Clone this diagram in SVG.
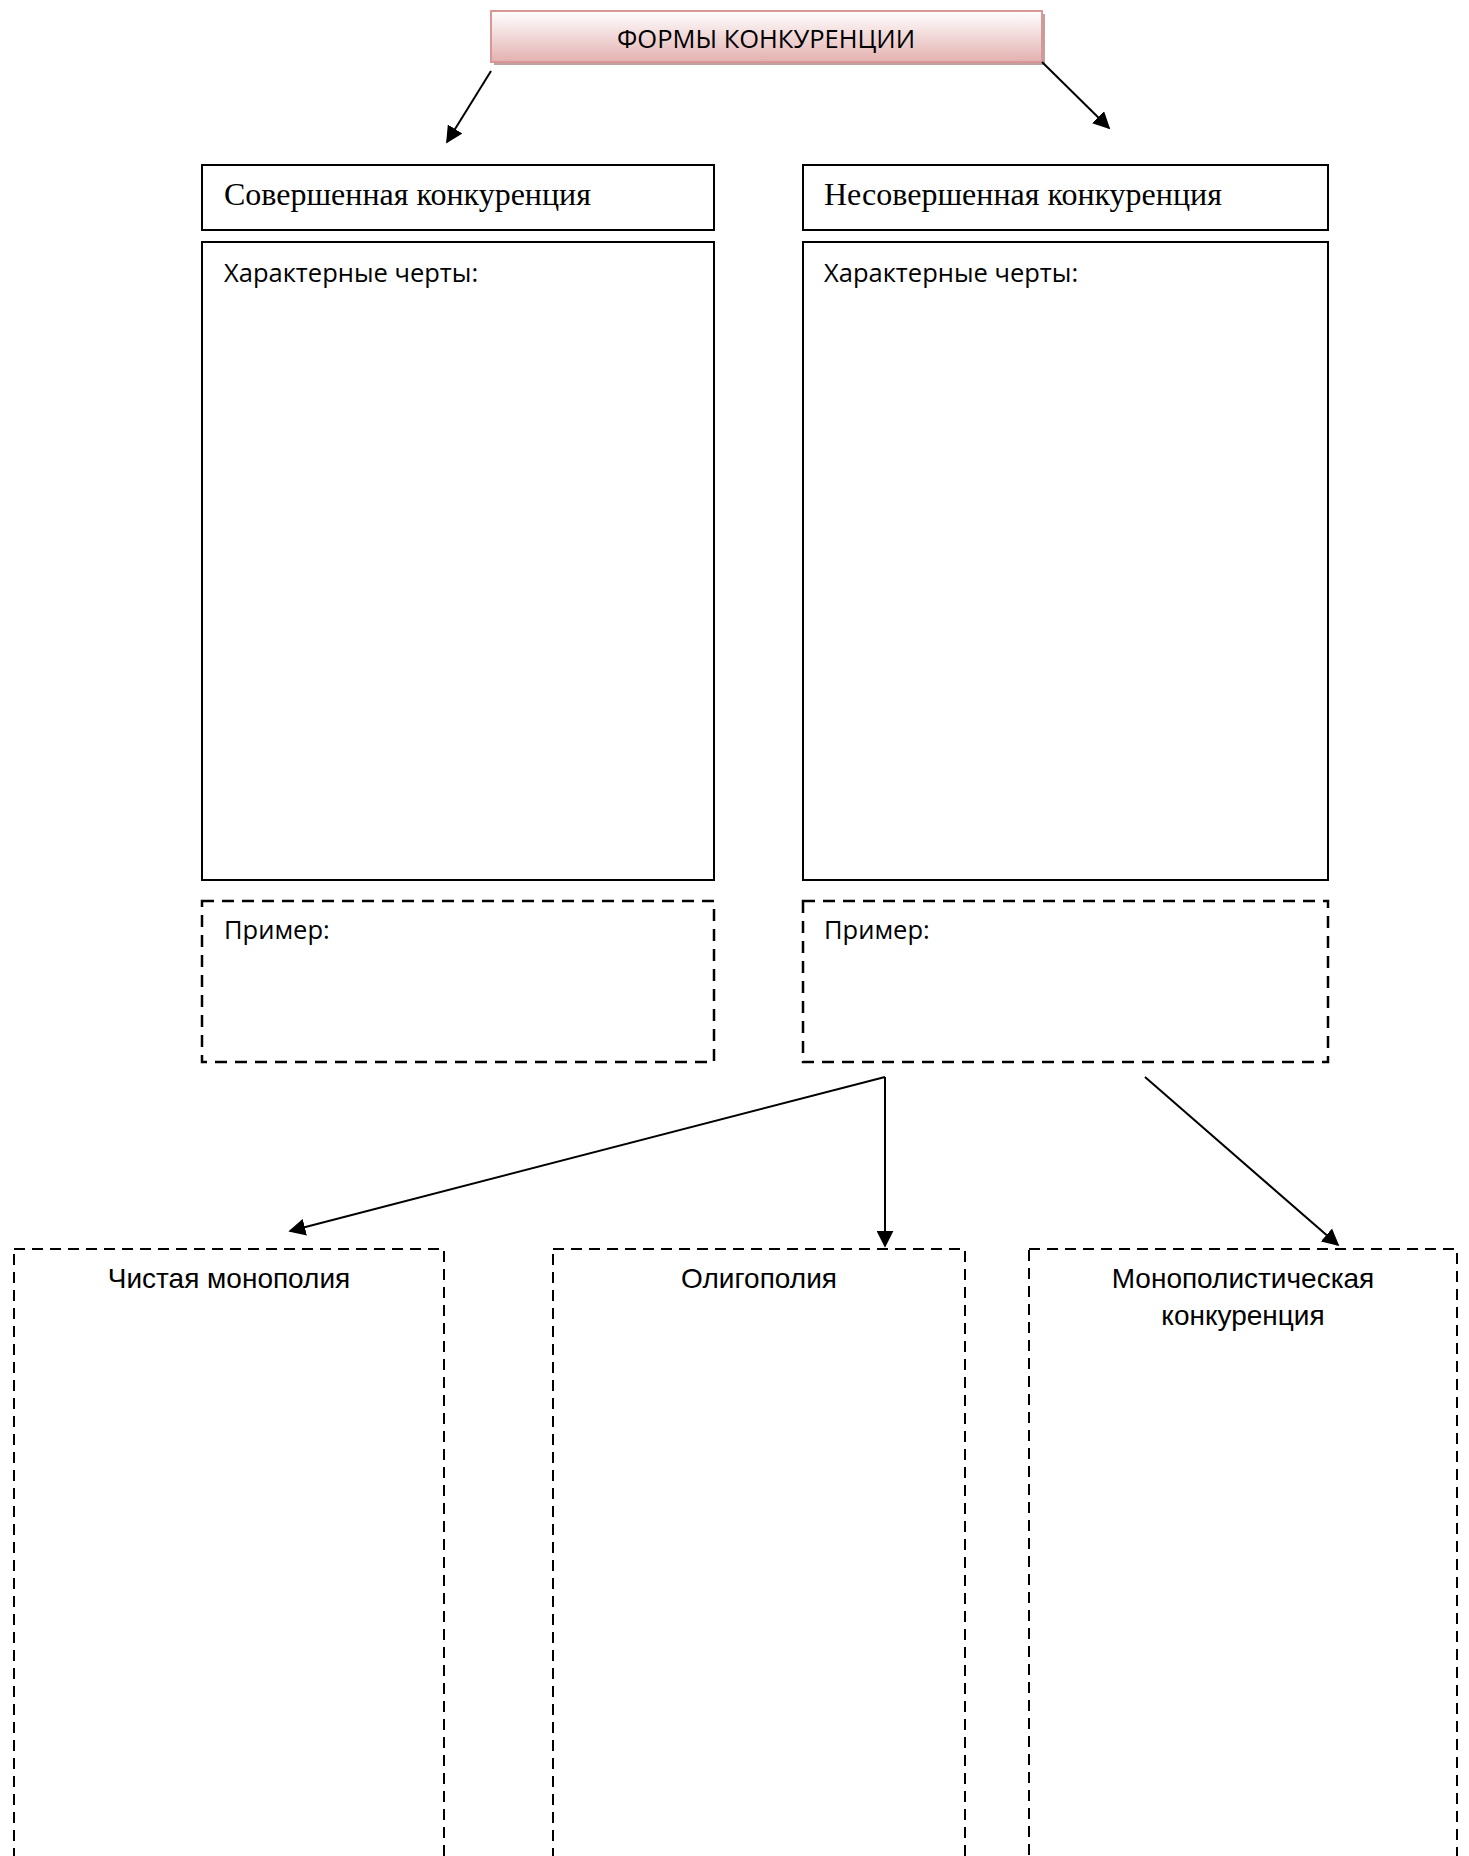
<svg xmlns="http://www.w3.org/2000/svg" width="1469" height="1856" viewBox="0 0 1469 1856">
<defs>
<linearGradient id="tg" x1="0" y1="0" x2="0" y2="1">
<stop offset="0" stop-color="#ffffff"/>
<stop offset="1" stop-color="#e3b1b0"/>
</linearGradient>
<marker id="ah2" viewBox="0 0 10 10" refX="9" refY="5" markerWidth="17" markerHeight="17" markerUnits="userSpaceOnUse" orient="auto">
<path d="M0,0 L10,5 L0,10 z" fill="#000"/>
</marker>
</defs>
<style>
.solid{fill:#fff;stroke:#000;stroke-width:2}
.dash1{fill:none;stroke:#000;stroke-width:2.5;stroke-dasharray:12 8}
.dash2{fill:none;stroke:#000;stroke-width:2;stroke-dasharray:11 7}
.times{font-family:"Liberation Serif",serif;font-size:32px;fill:#000}
.cal{font-family:"Open Sans","Liberation Sans",sans-serif;font-size:25.5px;fill:#000}
.arial{font-family:"Liberation Sans",Arial,sans-serif;font-size:28px;fill:#000}
.conn{stroke:#000;stroke-width:2;fill:none}
</style>
<rect width="1469" height="1856" fill="#fff"/>
<g id="title">
<rect x="494" y="14" width="551" height="51" fill="#b08a8a" opacity="0.8"/>
<rect x="491" y="11" width="551" height="51" fill="url(#tg)" stroke="#d99694" stroke-width="2"/>
<text x="766" y="48" text-anchor="middle" class="cal">ФОРМЫ КОНКУРЕНЦИИ</text>
</g>
<g id="perfect">
<rect class="solid" x="202" y="165" width="512" height="65"/>
<text class="times" x="224" y="205">Совершенная конкуренция</text>
</g>
<g id="perfect-traits">
<rect class="solid" x="202" y="242" width="512" height="638"/>
<text class="cal" x="224" y="282">Характерные черты:</text>
</g>
<g id="perfect-example">
<rect class="dash1" x="202" y="901" width="512" height="161"/>
<text class="cal" x="224" y="939">Пример:</text>
</g>
<g id="imperfect">
<rect class="solid" x="803" y="165" width="525" height="65"/>
<text class="times" x="824" y="205">Несовершенная конкуренция</text>
</g>
<g id="imperfect-traits">
<rect class="solid" x="803" y="242" width="525" height="638"/>
<text class="cal" x="824" y="282">Характерные черты:</text>
</g>
<g id="imperfect-example">
<rect class="dash1" x="803" y="901" width="525" height="161"/>
<text class="cal" x="824" y="939">Пример:</text>
</g>
<g id="pure-monopoly">
<rect class="dash2" x="14" y="1249" width="430" height="640"/>
<text class="arial" x="229" y="1288" text-anchor="middle">Чистая монополия</text>
</g>
<g id="oligopoly">
<rect class="dash2" x="553" y="1249" width="412" height="640"/>
<text class="arial" x="759" y="1288" text-anchor="middle">Олигополия</text>
</g>
<g id="monopolistic">
<rect class="dash2" x="1029" y="1249" width="428" height="640"/>
<text class="arial" x="1243" y="1288" text-anchor="middle">Монополистическая</text>
<text class="arial" x="1243" y="1325" text-anchor="middle">конкуренция</text>
</g>
<g id="connectors">
<line class="conn" x1="491" y1="71" x2="447" y2="142" marker-end="url(#ah2)"/>
<line class="conn" x1="1042" y1="62" x2="1109" y2="128" marker-end="url(#ah2)"/>
<line class="conn" x1="885" y1="1077" x2="290" y2="1231" marker-end="url(#ah2)"/>
<line class="conn" x1="885" y1="1077" x2="885" y2="1246" marker-end="url(#ah2)"/>
<line class="conn" x1="1145" y1="1077" x2="1338" y2="1245" marker-end="url(#ah2)"/>
</g>
</svg>
